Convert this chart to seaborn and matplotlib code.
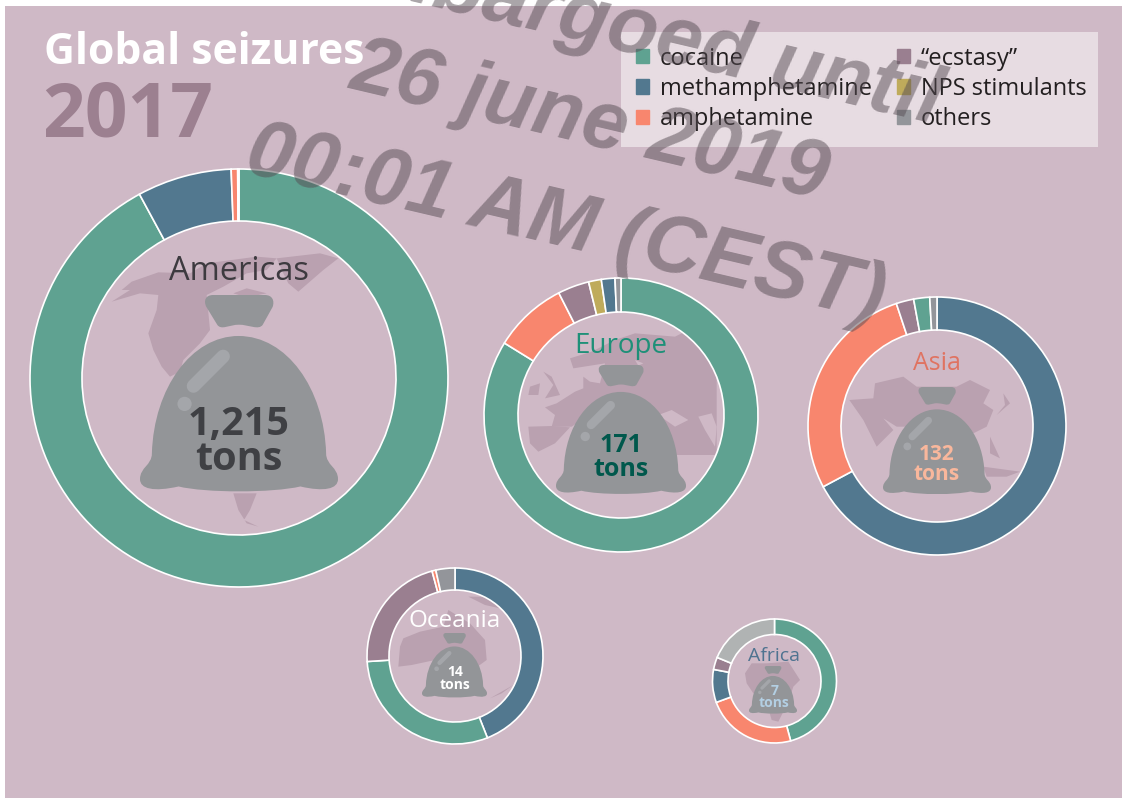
"""Global drug seizures 2017: one donut per region, sized by tonnage."""
import matplotlib
matplotlib.use("Agg")
import matplotlib.pyplot as plt
import seaborn as sns
from matplotlib.patches import Circle, PathPatch, Patch, Polygon, Rectangle
from matplotlib.path import Path

W, H = 1122, 798

# share of each region's seizures, clockwise from 12 o'clock
REGIONS = ["Americas", "Europe", "Asia", "Oceania", "Africa"]
TONS = ["1,215", "171", "132", "14", "7"]
AMERICAS_DRUGS = ["cocaine", "methamphetamine", "amphetamine", "others"]
AMERICAS_SHARE = [92.1, 7.3, 0.5, 0.1]
EUROPE_DRUGS = ["cocaine", "amphetamine", "ecstasy", "nps", "methamphetamine", "others"]
EUROPE_SHARE = [83.8, 8.7, 3.7, 1.5, 1.6, 0.7]
ASIA_DRUGS = ["methamphetamine", "amphetamine", "ecstasy", "cocaine", "others"]
ASIA_SHARE = [67.2, 27.7, 2.2, 2.0, 0.9]
OCEANIA_DRUGS = ["methamphetamine", "cocaine", "ecstasy", "amphetamine", "others"]
OCEANIA_SHARE = [44.0, 30.0, 21.8, 0.7, 3.5]
AFRICA_DRUGS = ["cocaine", "amphetamine", "methamphetamine", "ecstasy", "others_light"]
AFRICA_SHARE = [45.8, 23.6, 8.6, 3.2, 18.8]

LEGEND_KEYS = ["cocaine", "methamphetamine", "amphetamine", "ecstasy", "nps", "others"]
LEGEND_LABELS = ["cocaine", "methamphetamine", "amphetamine", "\u201cecstasy\u201d",
                 "NPS stimulants", "others"]

palette = sns.color_palette(["#5fa291", "#52788f", "#f8866e", "#9a7f90", "#bfab5b",
                             "#93959a", "#b0b3b3"])
COLORS = dict(zip(LEGEND_KEYS + ["others_light"], palette))

BG = "#cfb9c6"
MAP = "#baa1b0"
BAG = "#939598"
SHINE = "#a4a6aa"

# layout per region, all in picture pixels
LAYOUT = {
    "Americas": dict(c=(239, 378), r=209, inner=157, bag=(140, 295, 198), name_y=271,
                     name_size=23.5, name_color="#3d3a3f", num_y=(424, 460), num_size=28.5,
                     num_color="#3f4044"),
    "Europe": dict(c=(621, 415), r=137, inner=103, bag=(556, 365, 130), name_y=346,
                   name_size=20, name_color="#1e9078", num_y=(446, 469), num_size=18,
                   num_color="#00584c"),
    "Asia": dict(c=(937, 426), r=129, inner=96, bag=(883, 387, 108), name_y=364,
                 name_size=18, name_color="#e07361", num_y=(455, 475), num_size=15,
                 num_color="#f9b79c"),
    "Oceania": dict(c=(455, 656), r=88, inner=66, bag=(422, 633, 65), name_y=621,
                    name_size=17.5, name_color="#ffffff", num_y=(672, 685), num_size=10,
                    num_color="#ffffff"),
    "Africa": dict(c=(774.5, 681), r=62, inner=46.5, bag=(749, 666, 48), name_y=656,
                   name_size=14, name_color="#4f7390", num_y=(691, 703), num_size=10,
                   num_color="#b3cfe3"),
}

# rough land outlines traced from 3x crops: (crop x, crop y, points)
LAND = [
    (90, 240, [(65, 185), (120, 150), (95, 150), (125, 125), (205, 97), (300, 100), (350, 70),
               (500, 50), (560, 55), (530, 90), (470, 100), (400, 140), (350, 165), (360, 270),
               (330, 310), (280, 360), (270, 395), (240, 410), (215, 380), (190, 330),
               (175, 280), (200, 210), (205, 165), (150, 160)]),
    (90, 240, [(560, 55), (690, 40), (745, 55), (700, 90), (625, 155), (595, 130), (580, 100)]),
    (90, 240, [(470, 145), (530, 160), (470, 172), (430, 160)]),
    (90, 240, [(430, 760), (500, 760), (480, 810), (462, 840), (505, 860), (470, 850), (445, 810)]),
    (515, 320, [(90, 262), (125, 250), (180, 215), (205, 205), (205, 170), (225, 185), (255, 190),
                (270, 130), (175, 145), (165, 115), (230, 95), (300, 60), (360, 40), (480, 50),
                (520, 30), (590, 70), (605, 100), (605, 405), (470, 405), (440, 350), (300, 340),
                (200, 300), (170, 320), (110, 320), (120, 285)]),
    (515, 320, [(40, 320), (110, 318), (165, 322), (120, 370), (70, 395), (45, 370)]),
    (515, 320, [(85, 155), (110, 170), (135, 225), (90, 235), (115, 195)]),
    (515, 320, [(45, 200), (75, 190), (70, 225), (40, 225)]),
    (840, 370, [(28, 90), (100, 85), (105, 40), (190, 20), (230, 50), (350, 50), (390, 30),
                (450, 60), (430, 100), (460, 120), (440, 170), (400, 190), (330, 190), (200, 170),
                (170, 170), (130, 145), (160, 180), (110, 230), (70, 150)]),
    (840, 370, [(490, 70), (510, 100), (470, 135), (495, 105)]),
    (840, 370, [(450, 200), (480, 265), (450, 250)]),
    (840, 370, [(430, 290), (540, 305), (500, 320), (440, 320)]),
    (385, 590, [(40, 230), (45, 170), (55, 145), (105, 125), (175, 110), (190, 60), (255, 100),
                (300, 150), (305, 210), (250, 250), (150, 210), (80, 225)]),
    (385, 590, [(250, 20), (300, 20), (345, 55), (300, 45)]),
    (385, 590, [(315, 325), (385, 285), (350, 310)]),
    (725, 640, [(60, 100), (80, 70), (125, 70), (190, 65), (225, 120), (205, 140), (190, 185),
                (160, 245), (140, 240), (120, 170), (85, 160), (65, 130)]),
]
# seas cut back out of the European landmass
SEAS = [
    (515, 320, [(430, 285), (470, 270), (520, 300), (480, 320)]),
    (515, 320, [(550, 290), (590, 280), (605, 320), (600, 380), (570, 330)]),
    (515, 320, [(360, 120), (385, 130), (370, 137)]),
]

# watermark lines with their centres in pixels
STAMP = [("Embargoed until", 626, 30), ("26 june 2019", 589, 123), ("00:01 AM (CEST)", 566, 226)]


def py(y):
    return H - y


def land(ax, pieces, color):
    for ox, oy, pts in pieces:
        xy = [(ox + x / 3, py(oy + y / 3)) for x, y in pts]
        ax.add_patch(Polygon(xy, closed=True, fc=color, ec="none", zorder=2))


def bag(ax, left, top, size):
    def p(u, v):
        return (left + u * size, py(top + v * size))

    body = [
        (Path.MOVETO, (.498, .207)),
        (Path.CURVE4, (.26, .207)), (Path.CURVE4, (.07, .47)), (Path.CURVE4, (.06, .80)),
        (Path.CURVE4, (.06, .86)), (Path.CURVE4, (0, .87)), (Path.CURVE4, (0, .93)),
        (Path.CURVE4, (0, .98)), (Path.CURVE4, (.07, .995)), (Path.CURVE4, (.195, .967)),
        (Path.CURVE4, (.33, 1.0)), (Path.CURVE4, (.67, 1.0)), (Path.CURVE4, (.81, .967)),
        (Path.CURVE4, (.93, .995)), (Path.CURVE4, (1, .98)), (Path.CURVE4, (1, .93)),
        (Path.CURVE4, (1, .87)), (Path.CURVE4, (.94, .86)), (Path.CURVE4, (.94, .80)),
        (Path.CURVE4, (.93, .47)), (Path.CURVE4, (.74, .207)), (Path.CURVE4, (.498, .207)),
        (Path.CLOSEPOLY, (.498, .207)),
    ]
    knot = [
        (Path.MOVETO, (.37, 0)), (Path.LINETO, (.63, 0)),
        (Path.CURVE4, (.67, 0)), (Path.CURVE4, (.68, .03)), (Path.CURVE4, (.67, .06)),
        (Path.LINETO, (.62, .15)),
        (Path.CURVE4, (.60, .18)), (Path.CURVE4, (.55, .15)), (Path.CURVE4, (.50, .15)),
        (Path.CURVE4, (.45, .15)), (Path.CURVE4, (.41, .18)), (Path.CURVE4, (.39, .15)),
        (Path.LINETO, (.335, .06)),
        (Path.CURVE4, (.32, .03)), (Path.CURVE4, (.33, 0)), (Path.CURVE4, (.37, 0)),
        (Path.CLOSEPOLY, (.37, 0)),
    ]
    for shape in (body, knot):
        codes = [c for c, _ in shape]
        verts = [p(*v) for _, v in shape]
        ax.add_patch(PathPatch(Path(verts, codes), fc=BAG, ec="none", zorder=3))
    a, b = p(.27, .46), p(.42, .31)
    ax.plot([a[0], b[0]], [a[1], b[1]], color=SHINE, lw=size * .068 * .72,
            solid_capstyle="round", zorder=4)
    ax.add_patch(Circle(p(.225, .55), size * .036, fc=SHINE, ec="none", zorder=4))


sns.set_theme(style="white")
plt.rcParams["font.family"] = ["Open Sans", "DejaVu Sans"]

fig = plt.figure(figsize=(W / 100, H / 100), dpi=100, facecolor="white")
ax = fig.add_axes([0, 0, 1, 1])

shares = dict(zip(REGIONS, [AMERICAS_SHARE, EUROPE_SHARE, ASIA_SHARE, OCEANIA_SHARE, AFRICA_SHARE]))
drugs = dict(zip(REGIONS, [AMERICAS_DRUGS, EUROPE_DRUGS, ASIA_DRUGS, OCEANIA_DRUGS, AFRICA_DRUGS]))

for name in REGIONS:
    cfg = LAYOUT[name]
    wedges, _ = ax.pie(shares[name], colors=[COLORS[d] for d in drugs[name]], startangle=90,
                       counterclock=False, center=(cfg["c"][0], py(cfg["c"][1])),
                       radius=cfg["r"],
                       wedgeprops=dict(width=cfg["r"] - cfg["inner"], edgecolor="white", linewidth=1.2))
    for w in wedges:
        w.set_zorder(5)

ax.set_xlim(0, W)
ax.set_ylim(0, H)
ax.set_aspect("equal")
ax.axis("off")

ax.add_patch(Rectangle((5, 0), W - 5, H - 6, fc=BG, ec="none", zorder=0))
land(ax, LAND, MAP)
land(ax, SEAS, BG)

for name, tons in zip(REGIONS, TONS):
    cfg = LAYOUT[name]
    bag(ax, *cfg["bag"])
    cx = cfg["c"][0]
    ax.text(cx, py(cfg["name_y"]), name, ha="center", va="center", fontsize=cfg["name_size"],
            color=cfg["name_color"], zorder=6)
    for y, line in zip(cfg["num_y"], (tons, "tons")):
        ax.text(cx, py(y), line, ha="center", va="center", fontsize=cfg["num_size"],
                fontweight="bold", color=cfg["num_color"], zorder=6)

ax.text(44, py(53), "Global seizures", ha="left", va="center", fontsize=30.7, fontweight="bold",
        color="white", zorder=6)
ax.text(42, py(117), "2017", ha="left", va="center", fontsize=54, fontweight="bold",
        color="#9c8090", zorder=6)

# legend sits on a translucent white card
ax.add_patch(Rectangle((621, py(147)), 477, 115, fc="white", alpha=.5, ec="none", zorder=6))
handles = [Patch(color=COLORS[k], label=l) for k, l in zip(LEGEND_KEYS, LEGEND_LABELS)]
leg = ax.legend(handles=handles, ncols=2, frameon=False, loc="upper left",
                bbox_to_anchor=(631 / W, py(42) / H), bbox_transform=fig.transFigure,
                fontsize=17, handlelength=.55, handleheight=.55, handletextpad=.47,
                labelspacing=.26, columnspacing=1.06, borderpad=.2, borderaxespad=0,
                labelcolor="#231f20")
leg.set_zorder(7)

for line, x, y in STAMP:
    ax.text(x, py(y), line, ha="center", va="center", rotation=-13.2, rotation_mode="anchor",
            fontsize=59, fontweight="bold", fontstyle="italic", family="Liberation Sans",
            color="#554b52", alpha=.5, zorder=9, clip_on=False)

fig.savefig("out.png", dpi=100)
